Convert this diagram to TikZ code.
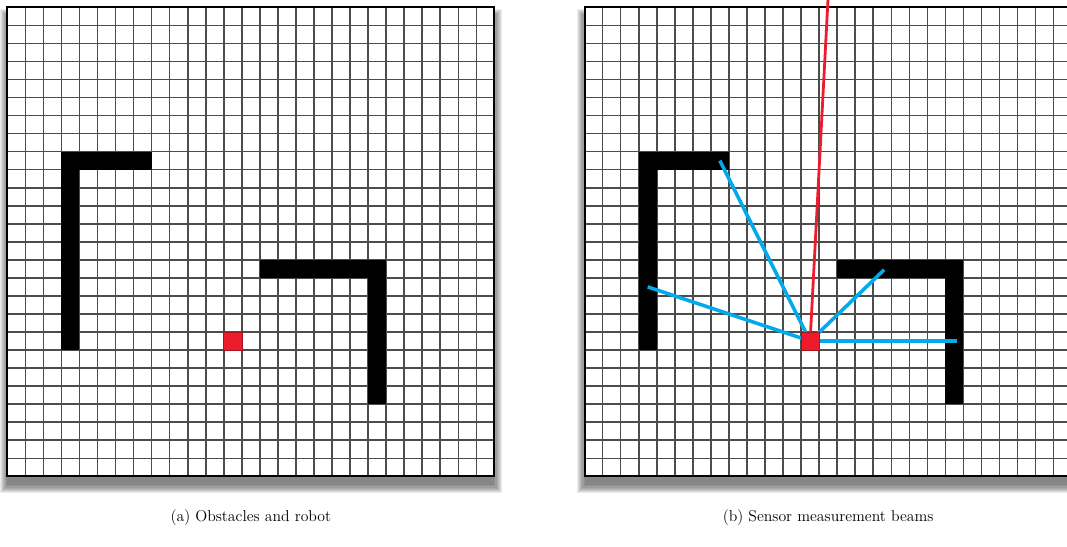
\documentclass[tikz,border=0pt]{standalone}
\begin{document}
\begin{tikzpicture}[x=0.5cm,y=0.5cm,font=\fontsize{12.4}{15}\selectfont]
	\useasboundingbox (-0.405,-3.864) rectangle (58.74,26.405);
	\clip (-0.405,-3.864) rectangle (58.74,26.405);
	\definecolor{robot}{RGB}{237,28,45}
	\definecolor{tia}{RGB}{0,170,235}
	\tikzset{luoi/.pic={
			% bong do mo
			\foreach \i in {0,...,7}
			\fill[black,opacity=0.08](-0.06*\i,-0.5-0.06*\i)rectangle(27+0.06*\i,25.5+0.06*\i);
			\fill[white](0,0)rectangle(27,26);
			\draw[line width=1.25pt,black!70,step=1](0,0)grid(27,26);
			\draw[line width=1.5pt](0,0)rectangle(27,26);
			% vat can
			\foreach \a/\b/\c/\d in {3/17/8/18,3/7/4/18,14/11/21/12,20/4/21/12}
			\fill(\a,\b)rectangle(\c,\d);
	}}
	\tikzset{xe/.pic={
			\fill[robot,draw=robot!70!black,line width=0.5pt](-0.5,-0.5)rectangle(0.5,0.5);
	}}
	% (a)
	\path(0,0)pic{luoi};
	\coordinate(R1) at (12.5,7.5);
	\path(R1)pic{xe};
	% (b)
	\begin{scope}[shift={(32,0)}]
		\path(0,0)pic{luoi};
		\coordinate(R2) at (12.5,7.5);
		\draw[robot,line width=2.2pt](R2)--(13.5,26.6)coordinate(T);
		\foreach \x/\y in {7.5/17.5,3.5/10.5,16.6/11.45,20.65/7.5}
		\draw[tia,line width=2.8pt](R2)--(\x,\y);
		\path(R2)pic{xe};
	\end{scope}
	\path(13.5,-2.26)node(capA){(a) Obstacles and robot}(45.5,-2.26)node(capB){(b) Sensor measurement beams};
\end{tikzpicture}
\end{document}
